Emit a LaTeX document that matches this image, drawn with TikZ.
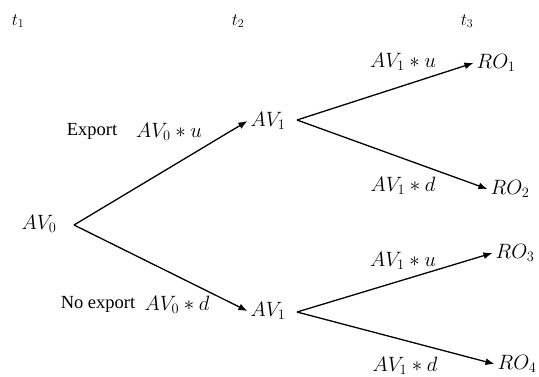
\documentclass[tikz,border=0pt]{standalone}
\usepackage{fontspec}
\setmainfont{Liberation Serif}
\usetikzlibrary{arrows.meta}
\tikzset{
  val/.style={inner sep=3pt, font=\fontsize{20.5}{24}\selectfont},
  lbl/.style={font=\fontsize{20}{24}\selectfont},
  branch/.style={-{Latex[length=9pt,width=7pt]}, line width=1.3pt}
}
\begin{document}
\begin{tikzpicture}[x=1pt,y=-1pt,font=\fontsize{18.5}{22}\selectfont]
    \useasboundingbox (0,0) rectangle (539,376);
    % time stages
    \node (t1) at (18,21) {$t_1$};
    \node (t2) at (238,21) {$t_2$};
    \node (t3) at (467,21) {$t_3$};
    % tree
    \node[val] (a0) at (39,224) {$AV_0$};
    \node[val] (a1) at (268,121) {$AV_1$};
    \node[val] (a2) at (268,311) {$AV_1$};
    \node[val] (r1) at (496,63) {$RO_1$};
    \node[val] (r2) at (510,189) {$RO_2$};
    \node[val] (r3) at (515,253) {$RO_3$};
    \node[val] (r4) at (517,364) {$RO_4$};
    \coordinate (f0) at (74,225);
    \coordinate (f1) at (297,120);
    \coordinate (f2) at (297,312);
    \draw[branch] (f0) -- (a1.west);
    \draw[branch] (f0) -- (a2.west);
    \draw[branch] (f1) -- (r1.west);
    \draw[branch] (f1) -- (r2.west);
    \draw[branch] (f2) -- (r3.west);
    \draw[branch] (f2) -- (r4.west);
    % edge labels
    \node (ex) at (92,131) {Export};
    \node[lbl] (eu) at (169,132) {$AV_0 * u$};
    \node (nx) at (98,304) {No export};
    \node[lbl] (nd) at (177,305) {$AV_0 * d$};
    \node[lbl] (u1) at (403,62) {$AV_1 * u$};
    \node[lbl] (d1) at (403,186) {$AV_1 * d$};
    \node[lbl] (u2) at (403,261) {$AV_1 * u$};
    \node[lbl] (d2) at (405,366) {$AV_1 * d$};
\end{tikzpicture}
\end{document}
